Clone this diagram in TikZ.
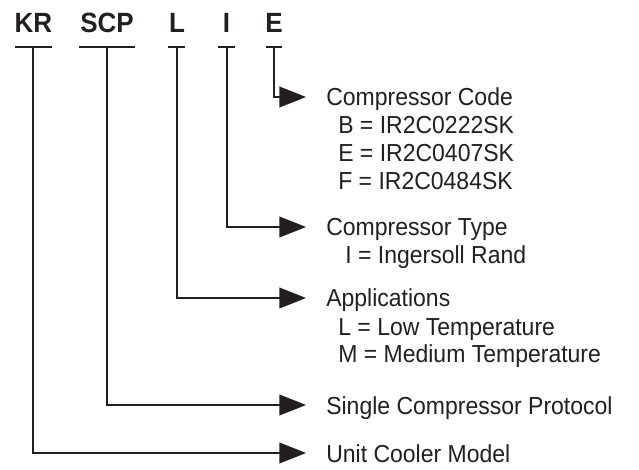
\documentclass[tikz,border=0pt]{standalone}
\usepackage{fontspec}
\setmainfont{Liberation Sans}
\usetikzlibrary{arrows.meta}
\definecolor{ink}{HTML}{231F20}
% slightly condensed look: stretch glyphs vertically
\newcommand{\tallset}[1]{\scalebox{1}[1.07]{#1}}
\begin{document}
\begin{tikzpicture}[x=0.75pt,y=-0.75pt,
  code/.style={font=\bfseries\fontsize{19.5}{20}\selectfont, text=ink, inner sep=0pt, anchor=base},
  desc/.style={font=\fontsize{17.25}{20}\selectfont, text=ink, inner sep=0pt, anchor=base west},
  bar/.style={draw=ink, line width=1.5pt},
  lead/.style={draw=ink, line width=1.5pt, -{Triangle[length=20pt,width=15.5pt]}}]
\useasboundingbox (0,0) rectangle (639,470);

% model code segments
\node[code] (kr)  at (33.5,33) {\tallset{KR}};
\node[code] (scp) at (107,33)  {\tallset{SCP}};
\node[code] (l)   at (177,33)  {\tallset{L}};
\node[code] (i)   at (226.5,33) {\tallset{I}};
\node[code] (e)   at (274,33)  {\tallset{E}};

% bars under each segment
\coordinate (krb)  at (33,47);
\coordinate (scpb) at (107,47);
\coordinate (lb)   at (177,47);
\coordinate (ib)   at (227,47);
\coordinate (eb)   at (274,47);
\draw[bar] (15,47) -- (52,47);
\draw[bar] (79,47) -- (135,47);
\draw[bar] (168,47) -- (185,47);
\draw[bar] (218,47) -- (235,47);
\draw[bar] (266,47) -- (282,47);

% arrow tips
\coordinate (etip)   at (306,97);
\coordinate (itip)   at (306,227);
\coordinate (ltip)   at (306,298);
\coordinate (scptip) at (306,405);
\coordinate (krtip)  at (306,453);

% descriptions
\node[desc] (code) at (326,106) {\tallset{Compressor Code}};
\node[desc] (codeb) at (338,134) {\tallset{B = IR2C0222SK}};
\node[desc] (codee) at (338,162) {\tallset{E = IR2C0407SK}};
\node[desc] (codef) at (338,190) {\tallset{F = IR2C0484SK}};

\node[desc] (type) at (326,236) {\tallset{Compressor Type}};
\node[desc] (typei) at (345,264) {\tallset{I = Ingersoll Rand}};

\node[desc] (app) at (326,307) {\tallset{Applications}};
\node[desc] (appl) at (338,335) {\tallset{L = Low Temperature}};
\node[desc] (appm) at (338,363) {\tallset{M = Medium Temperature}};

\node[desc] (scpd) at (326,414) {\tallset{Single Compressor Protocol}};
\node[desc] (krd)  at (326,462) {\tallset{Unit Cooler Model}};

% leaders
\draw[lead] (eb) |- (etip);
\draw[lead] (ib) |- (itip);
\draw[lead] (lb) |- (ltip);
\draw[lead] (scpb) |- (scptip);
\draw[lead] (krb) |- (krtip);
\end{tikzpicture}
\end{document}
